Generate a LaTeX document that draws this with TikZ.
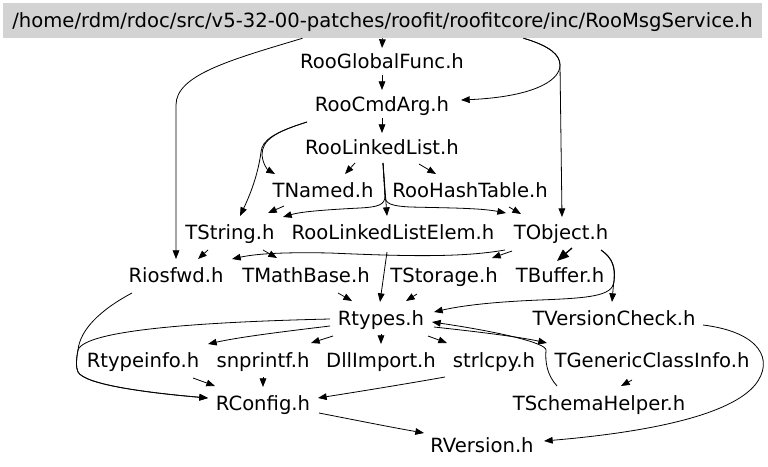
\documentclass[tikz,border=0pt]{standalone}
\usepackage{fontspec}
\setmainfont{DejaVu Sans}
\usetikzlibrary{calc,arrows.meta}
\begin{document}
\begin{tikzpicture}[x=0.75pt,y=-0.75pt,
  lbl/.style={inner sep=0pt, text height=12pt, text depth=1.5pt, font=\fontsize{14.7pt}{17pt}\selectfont},
  rootbox/.style={lbl, fill=rootgray, minimum width=569.25pt, minimum height=26.25pt},
  edge/.style={line width=0.6pt, -{Triangle[length=6.5pt,width=5pt]}},
  boldedge/.style={line width=1pt, -{Triangle[length=9pt,width=7pt]}}
  ]
\definecolor{rootgray}{RGB}{211,211,211}
\useasboundingbox (0,0) rectangle (768,467);
\fill[white] (0,0) rectangle (768,467);
% nodes
\node[rootbox] (Root) at (382.5,20.5) {/home/rdm/rdoc/src/v5-32-00-patches/roofit/roofitcore/inc/RooMsgService.h};
\node[lbl] (GF) at (382,62) {RooGlobalFunc.h};
\node[lbl] (CA) at (382,105) {RooCmdArg.h};
\node[lbl] (LL) at (382,148) {RooLinkedList.h};
\node[lbl] (TN) at (323,190) {TNamed.h};
\node[lbl] (HT) at (470,190) {RooHashTable.h};
\node[lbl] (TS) at (230,232) {TString.h};
\node[lbl] (LE) at (393,232) {RooLinkedListElem.h};
\node[lbl] (TO) at (561,232) {TObject.h};
\node[lbl] (RI) at (176,275) {Riosfwd.h};
\node[lbl] (MB) at (306,275) {TMathBase.h};
\node[lbl] (ST) at (444,275) {TStorage.h};
\node[lbl] (TB) at (560,275) {TBuffer.h};
\node[lbl] (RT) at (381,318) {Rtypes.h};
\node[lbl] (VC) at (614,318) {TVersionCheck.h};
\node[lbl] (TI) at (143,360) {Rtypeinfo.h};
\node[lbl] (SN) at (263,360) {snprintf.h};
\node[lbl] (DI) at (381,360) {DllImport.h};
\node[lbl] (SL) at (494,360) {strlcpy.h};
\node[lbl] (GC) at (652,360) {TGenericClassInfo.h};
\node[lbl] (RC) at (263,403) {RConfig.h};
\node[lbl] (SH) at (599,403) {TSchemaHelper.h};
\node[lbl] (RV) at (482,445) {RVersion.h};
% edges
\draw[edge] (Root.south) -- ($(GF)+(0,-14)$);
\draw[edge] ($(Root.south)+(-80,0)$) .. controls (230,60) and (176,75) .. (176,105) -- ($(RI)+(0,-16)$);
\draw[edge] ($(Root.south)+(141,0)$) .. controls (550,46) and (560,55) .. (560,65) .. controls (560,82) and (530,97) .. ($(CA)+(79,-5)$);
\draw[edge] ($(Root.south)+(141,0)$) .. controls (550,46) and (560,55) .. (560,65) -- ($(TO)+(1,-15)$);
\draw[edge] ($(GF)+(0,13)$) -- ($(CA)+(0,-15)$);
\draw[edge] ($(CA)+(0,13)$) -- ($(LL)+(0,-15)$);
\draw[edge] ($(CA)+(-75,17)$) .. controls (275,132) and (262,140) .. (261,152) .. controls (258,175) and (250,195) .. ($(TS)+(10,-16)$);
\draw[edge] ($(CA)+(-75,17)$) .. controls (275,132) and (262,140) .. (262,155) .. controls (263,165) and (268,170) .. ($(TN)+(-48,-16)$);
\draw[edge] ($(LL)+(-27,15)$) -- ($(TN)+(22,-16)$);
\draw[edge] ($(LL)+(37,16)$) -- ($(HT)+(-34,-16)$);
\draw[edge] ($(LL)+(1,15)$) -- ($(LE)+(-6,-16)$);
\draw[edge] ($(LL)+(1,15)$) -- (385,196) .. controls (385,205) and (378,207) .. (360,208) .. controls (320,210) and (300,212) .. ($(TS)+(53,-15)$);
\draw[edge] ($(LL)+(1,15)$) -- (385,196) .. controls (385,204) and (392,206) .. (410,207) .. controls (450,208) and (480,208) .. ($(TO)+(-55,-19)$);
\draw[edge] ($(TN)+(-39,16)$) -- ($(TS)+(38,-19)$);
\draw[edge] ($(HT)+(39,17)$) -- ($(TO)+(-40,-18)$);
\draw[edge] ($(TS)+(-22,18)$) -- ($(RI)+(22,-16)$);
\draw[edge] ($(TS)+(33,18)$) -- ($(MB)+(-29,-17)$);
\draw[edge] ($(TO)+(-56,18)$) .. controls (460,258) and (400,256) .. (330,253) .. controls (280,252) and (255,254) .. ($(RI)+(56,-16)$);
\draw[edge] ($(TO)+(-49,19)$) -- ($(ST)+(48,-17)$);
\draw[boldedge] ($(TO)+(11,16)$) -- ($(TB)+(-3,-14)$);
\draw[edge] ($(TO)+(40,18)$) .. controls (612,258) and (615,266) .. (614,280) .. controls (613,290) .. ($(VC)+(-2,-16)$);
\draw[edge] ($(TO)+(40,18)$) .. controls (613,258) and (616,268) .. (614,282) .. controls (612,296) and (590,298) .. (540,300) .. controls (490,302) and (460,306) .. ($(RT)+(53,-6)$);
\draw[edge] ($(MB)+(32,18)$) -- ($(RT)+(-29,-17)$);
\draw[edge] ($(LE)+(-6,20)$) -- ($(RT)+(-1,-16)$);
\draw[edge] ($(ST)+(-27,19)$) -- ($(RT)+(25,-17)$);
\draw[edge] ($(RT)+(-51,8)$) .. controls (280,332) and (240,337) .. ($(TI)+(65,-16)$);
\draw[edge] ($(RT)+(-48,18)$) -- ($(SN)+(48,-17)$);
\draw[edge] ($(RT)+(0,16)$) -- ($(DI)+(0,-16)$);
\draw[edge] ($(RT)+(47,18)$) -- ($(SL)+(-47,-17)$);
\draw[edge] ($(RT)+(53,9)$) .. controls (480,332) and (520,337) .. ($(GC)+(-105,-17)$);
\draw[edge] ($(SH)+(-42,-17)$) .. controls (547,375) and (545,362) .. (546,350) .. controls (546,343) and (500,332) .. ($(RT)+(51,4)$);
\draw[edge] ($(RT)+(-51,1)$) .. controls (200,322) and (85,330) .. (78,350) .. controls (76,360) and (76,368) .. (78,372) .. controls (85,385) and (150,393) .. ($(RC)+(-55,-5)$);
\draw[edge] ($(RI)+(-44,18)$) .. controls (100,310) and (80,330) .. (78,350) .. controls (76,360) and (76,368) .. (78,372) .. controls (85,385) and (150,393) .. ($(RC)+(-55,-5)$);
\draw[edge] ($(TI)+(50,18)$) -- ($(RC)+(-48,-17)$);
\draw[edge] ($(SN)+(0,17)$) -- ($(RC)+(0,-16)$);
\draw[edge] ($(SL)+(-49,17)$) .. controls (400,385) and (350,393) .. ($(RC)+(55,-5)$);
\draw[edge] ($(GC)+(-20,20)$) -- ($(SH)+(22,-17)$);
\draw[edge] ($(RC)+(56,10)$) .. controls (360,421) and (390,427) .. ($(RV)+(-58,-12)$);
\draw[edge] ($(VC)+(89,7)$) .. controls (760,332) and (775,360) .. (755,385) .. controls (730,415) and (650,432) .. ($(RV)+(62,-4)$);
\end{tikzpicture}
\end{document}
